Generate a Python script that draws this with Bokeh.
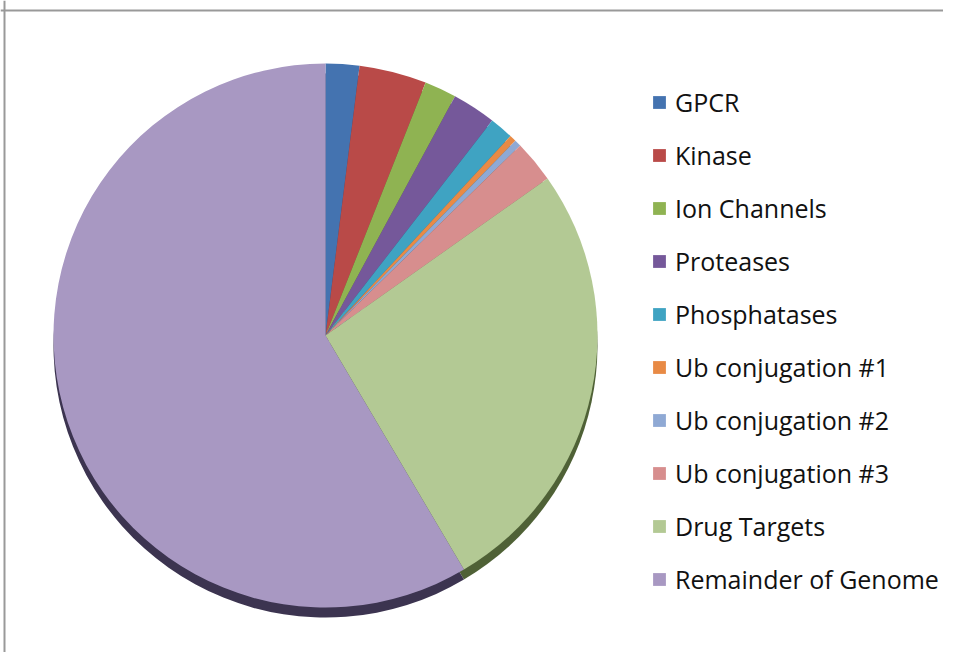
from math import pi
from bokeh.plotting import figure
from bokeh.models import ColumnDataSource, Legend, LegendItem, Span
from bokeh.embed import file_html
from bokeh.resources import INLINE

categories = ["GPCR", "Kinase", "Ion Channels", "Proteases", "Phosphatases",
              "Ub conjugation #1", "Ub conjugation #2", "Ub conjugation #3",
              "Drug Targets", "Remainder of Genome"]
percent = [2.0, 4.0, 1.9, 2.6, 1.4, 0.4, 0.4, 2.5, 26.3, 58.5]
colors = ["#4473b0", "#b94a48", "#8fb352", "#75589a", "#3fa3c2",
          "#e88a45", "#8fa9d4", "#d78e8e", "#b3c994", "#a898c2"]
side_colors = ["#2d4d78", "#7a2f2e", "#5c7534", "#4a3766", "#2a6c80",
               "#9a5a2c", "#5e708f", "#8f5e5e", "#4f6136", "#3c3450"]

W, H = 943, 652
CX, CY, R = 325, 317, 272
DEPTH = 10

total = sum(percent)
starts, ends = [], []
acc = 0.0
for v in percent:
    a0 = pi / 2 - 2 * pi * acc / total
    acc += v
    a1 = pi / 2 - 2 * pi * acc / total
    starts.append(a1)
    ends.append(a0)

src = ColumnDataSource(dict(cat=categories, val=percent, color=colors,
                            side=side_colors, start=starts, end=ends))

p = figure(width=W, height=H, x_range=(0, W), y_range=(0, H),
           output_backend="svg", toolbar_location=None, min_border=0,
           match_aspect=False)
p.axis.visible = False
p.grid.visible = False
p.outline_line_color = None
p.background_fill_color = "white"
p.border_fill_color = "white"

# side (3D depth) of the pie
p.wedge(x=CX, y=CY - DEPTH, radius=R, start_angle="start", end_angle="end",
        fill_color="side", line_color=None, source=src)
# top surface
r = p.wedge(x=CX, y=CY, radius=R, start_angle="start", end_angle="end",
            fill_color="color", line_color=None, source=src)

items = [LegendItem(label=c, renderers=[r], index=i) for i, c in enumerate(categories)]
legend = Legend(items=items, location=(651, 55), padding=0, margin=0,
                border_line_color=None, background_fill_alpha=0,
                glyph_width=16, glyph_height=16, label_height=36, spacing=17,
                label_standoff=8, label_text_font="Open Sans",
                label_text_font_size="25px", label_text_color="#111111")
p.add_layout(legend)

p.add_layout(Span(location=4, dimension="height", line_color="#999999", line_width=2))
p.add_layout(Span(location=H - 10, dimension="width", line_color="#999999", line_width=2))

open("out.html", "w").write(file_html(p, INLINE))
